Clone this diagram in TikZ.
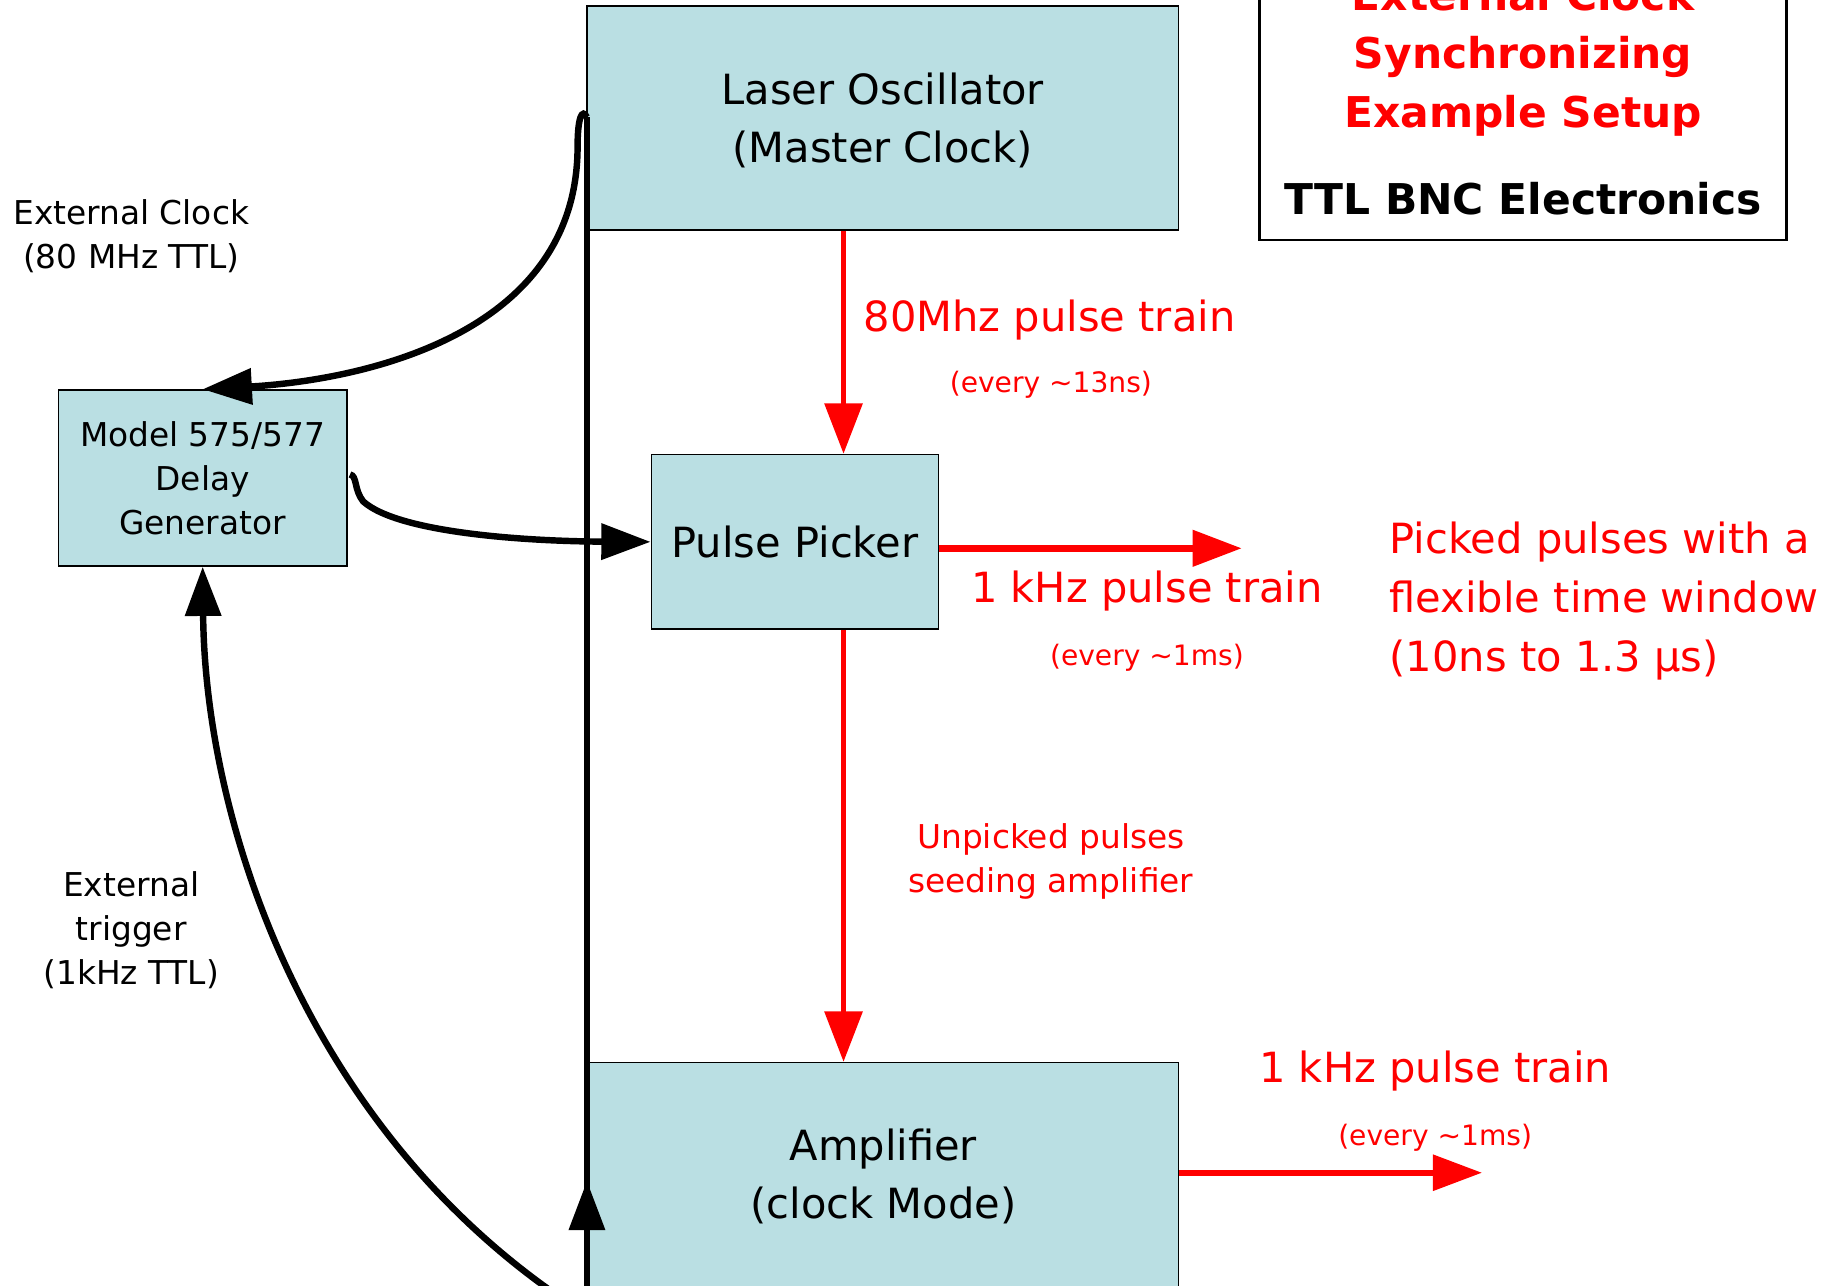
\documentclass[tikz,border=0pt]{standalone}
\usepackage{fontspec}
\setmainfont{DejaVu Sans}
\usetikzlibrary{arrows.meta,calc}
\definecolor{boxfill}{RGB}{186,223,227}
\definecolor{pred}{RGB}{255,0,0}
\begin{document}
\begin{tikzpicture}[x=1pt,y=-1pt,
  box/.style={draw=black,line width=1.5pt,fill=boxfill,inner sep=0pt,align=center},
  bigtext/.style={font=\fontsize{35.5}{50}\selectfont},
  midtext/.style={font=\fontsize{28}{37.5}\selectfont},
  smalltext/.style={font=\fontsize{24}{30}\selectfont},
  titletext/.style={font=\fontsize{36.2}{50}\selectfont\bfseries},
  blk/.style={draw=black,line width=5.5pt},
  blkarrow/.style={-{Triangle[length=42pt,width=30pt]}},
  redline/.style={draw=pred,line width=4pt},
  redarrow/.style={-{Triangle[length=43pt,width=32pt]}},
  lbl/.style={inner sep=0pt,align=center},
]
\useasboundingbox (0,0) rectangle (1568,1097);
\clip (0,0) rectangle (1568,1097);

% boxes
\node[box,minimum width=505pt,minimum height=191pt] (laser) at (753.5,100.5) {};
\node[lbl,bigtext] (lasertext) at (753.5,102.9) {Laser Oscillator\\(Master Clock)};
\node[box,bigtext,minimum width=245pt,minimum height=149pt] (picker) at (678.5,462.5) {Pulse Picker};
\node[box,midtext,minimum width=246pt,minimum height=150pt] (delay) at (173,408) {Model 575/577\\Delay\\Generator};
\node[box,minimum width=503pt,minimum height=300pt] (amp) at (754.5,1057) {};
\node[lbl,bigtext] (amptext) at (754,1004) {Amplifier\\(clock Mode)};

% title box
\node[draw=black,line width=2pt,fill=white,minimum width=450pt,minimum height=305pt] (titlebox) at (1300,52.5) {};
\node[lbl,titletext,text=pred] (title) at (1300,48.7) {External Clock\\Synchronizing\\Example Setup};
\node[lbl,titletext,anchor=base] (subtitle) at (1300,183.2) {TTL BNC Electronics};

% coordinates
\coordinate (clk) at (501,100);
\coordinate (vbot) at (501,1115);
\coordinate (varr) at (501,1008);
\coordinate (trig) at (482,1110);
\coordinate (ppout) at (1060,468);
\coordinate (ampout) at (1265,1001);

% black connectors
\draw[blk] (vbot) -- (clk);
\draw[blk,blkarrow] (vbot) -- (varr);
\draw[blk,blkarrow] (clk) .. controls (497,92) and (493,100) .. (493,125)
  .. controls (493,290) and (300,325) .. (delay.north);
\draw[blk,blkarrow] ($(delay.east)+(2,-3)$) .. controls (305,406) and (302,418) .. (310,428)
  .. controls (340,455) and (450,462) .. (picker.west);
\draw[blk,blkarrow] (trig) .. controls (260,960) and (175,700) .. (delay.south);

% red connectors
\draw[redline,redarrow] (laser.south -| 720,0) -- (picker.north -| 720,0);
\draw[redline,redarrow] (picker.south -| 720,0) -- (amp.north -| 720,0);
\draw[draw=pred,line width=6pt,-{Triangle[length=42pt,width=30pt]}] (picker.east |- ppout) -- (ppout);
\draw[draw=pred,line width=5pt,-{Triangle[length=42pt,width=30pt]}] (amp.east |- ampout) -- (ampout);

% red labels
\node[lbl,bigtext,text=pred,anchor=base west] (l80) at (737,283) {80Mhz pulse train};
\node[lbl,smalltext,text=pred,anchor=base] (l13) at (897,335) {(every \textasciitilde13ns)};
\node[lbl,bigtext,text=pred,anchor=base] (l1k) at (979,514) {1 kHz pulse train};
\node[lbl,smalltext,text=pred,anchor=base] (l1ms) at (979,568) {(every \textasciitilde1ms)};
\node[lbl,bigtext,text=pred,align=left,anchor=west] (picked) at (1186,513) {Picked pulses with a\\flexible time window\\(10ns to 1.3 μs)};
\node[lbl,midtext,text=pred] (unpicked) at (897,735.4) {Unpicked pulses\\seeding amplifier};
\node[lbl,bigtext,text=pred,anchor=base] (l1kb) at (1225,924) {1 kHz pulse train};
\node[lbl,smalltext,text=pred,anchor=base] (l1msb) at (1225,978) {(every \textasciitilde1ms)};

% black labels
\node[lbl,midtext] (extclk) at (112,202) {External Clock\\(80 MHz TTL)};
\node[lbl,midtext] (exttrig) at (112,793.8) {External\\trigger\\(1kHz TTL)};
\end{tikzpicture}
\end{document}
